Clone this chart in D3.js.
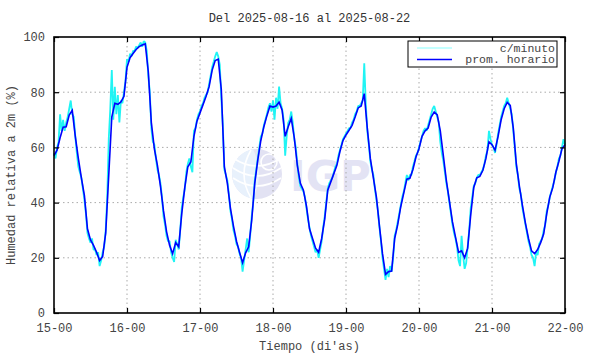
<!DOCTYPE html>
<html>
<head>
<meta charset="utf-8">
<script src="https://cdn.jsdelivr.net/npm/d3@7"></script>
<style>
	body { margin: 0; background: #fff; }
	text { font-family: "Liberation Mono", "DejaVu Sans Mono", monospace; }
</style>
</head>
<body>
<svg id="grafico" width="590" height="354"></svg>
<script>
var titulo = "Del 2025-08-16 al 2025-08-22";
var dias = ["15-00", "16-00", "17-00", "18-00", "19-00", "20-00", "21-00", "22-00"];
var humTicks = [0, 20, 40, 60, 80, 100];

// promedio horario, una hora por valor desde 15-00
var horario = [
	57, 59, 63.5, 67.3, 67.5, 71.7, 73.4, 64, 56, 49, 42.5, 30.5, 26.5, 24.5, 22, 19, 20.5, 29, 50, 71, 76, 75.6, 76.5, 78.5,
	89, 92.5, 94, 95.5, 96.5, 97.1, 97.5, 87.5, 69, 59.5, 53.5, 46, 37, 29.5, 24.5, 21.5, 25.5, 24, 36, 45.5, 53, 54.7, 64, 69.5,
	72.5, 75.5, 78.5, 82, 88, 91.5, 92, 81, 53, 47, 38, 31.5, 26, 22, 18.2, 21.8, 24, 33.6, 47, 55.5, 62.5, 67.5, 71.5, 75,
	74.6, 75, 76.4, 73.5, 64, 67.5, 70.5, 63.5, 53.5, 47, 44.5, 38.7, 30.5, 27, 23.5, 22, 27, 34, 44.5, 47.5, 50.5, 53.5, 58.5, 62.5,
	64.5, 66.2, 68, 71, 74.3, 75, 79.5, 67, 56, 49, 42, 31.5, 21.5, 14, 15, 15.2, 27, 32, 38.5, 43.5, 48.5, 48.8, 52, 56.5,
	59.5, 64, 66, 67, 71, 72.8, 71.8, 66, 57, 48, 40.5, 33, 27.5, 22, 22.5, 20, 23.5, 35.5, 45.5, 49, 49.5, 51.7, 56, 62,
	61, 59, 64, 70, 74, 76.3, 75.2, 67, 54, 46, 39, 32.5, 27, 22.5, 21.5, 23, 25.5, 28.7, 36, 42, 45.5, 51, 55, 59.5,
	61
];

// datos c/minuto (muestreados cada media hora)
var minuto = [
	58, 56, 60, 62, 72, 66, 70, 66, 69, 71, 74, 77, 72, 71, 64, 58, 53, 51, 49, 45, 41, 36, 29, 27,
	25.5, 27, 23, 23, 21, 22, 17, 19, 22, 24, 30, 42, 63, 74, 88, 70, 82, 72, 79, 69, 77, 76, 80, 84,
	92, 91, 94, 93, 95, 95, 96.5, 96, 97, 98, 96.5, 98.5, 98, 95, 86, 80, 67, 62, 61, 56, 52, 50, 47, 42,
	35, 32, 28, 26, 26, 22, 20, 18.5, 26.5, 25, 23, 30, 38, 42, 45, 51, 54, 56, 53, 51, 66, 67, 70, 72,
	73, 75, 76, 78, 79, 80, 83, 86, 89, 91, 93, 94.5, 93, 90, 78, 68, 52, 50, 48, 43, 37, 34, 30, 28,
	25, 24, 21.5, 20, 15, 19, 23, 27, 22, 28, 35, 40, 48, 52, 56, 60, 64, 65, 68, 70, 72, 74.5, 76, 73,
	77, 70, 78, 74, 82, 76, 74, 70, 57, 64, 69, 70, 73, 69, 63, 60, 54, 49, 46, 45, 44, 42, 38, 34,
	31, 28, 26, 24, 22, 23, 20, 23, 26, 31, 35, 40, 45, 47, 48, 49, 51, 53, 54, 57, 59, 61, 63, 64,
	65, 66, 67, 67, 69, 70, 72, 73, 75, 75, 76, 77, 90.5, 76, 66, 61, 55, 52, 50, 45, 41, 37, 31, 26,
	20, 16, 12, 16, 13, 17, 15, 20, 28, 30, 33, 36, 39, 42, 44, 47, 50, 48, 50, 50, 53, 55, 57, 58,
	60, 62, 64, 66, 67, 66, 68, 70, 72, 74, 75, 73, 71, 69, 62, 58, 55, 51, 47, 44, 40, 36, 32, 29,
	27, 24, 19, 17, 28, 21, 16, 18, 24, 30, 38, 42, 46, 47, 49, 50, 50, 51, 52, 54, 57, 59, 66, 63,
	61, 60, 58, 61, 65, 68, 71, 73, 75, 76, 78, 76, 74, 72, 66, 60, 53, 50, 45, 43, 38, 35, 32, 29,
	26, 24, 21, 20, 17, 22, 21, 25, 26, 27, 30, 32, 37, 39, 42, 44, 46, 48, 51, 53, 56, 57, 60, 63,
	61
];

var leyenda = ["c/minuto", "prom. horario"];

dibujar();

function dibujar(){
	var svg = d3.select("#grafico");
	var margin = {top: 37, right: 25, bottom: 41, left: 54},
	width = 590 - margin.left - margin.right,
	height = 354 - margin.top - margin.bottom;

	var x = d3.scaleLinear().domain([0, 168]).range([0, width]);
	var y = d3.scaleLinear().domain([0, 100]).range([height, 0]);
	var horas = dias.map(function(d, i) { return i * 24; });

	svg.append("text")
		.attr("x", margin.left + width / 2)
		.attr("y", 22)
		.attr("text-anchor", "middle")
		.attr("font-size", "12px")
		.attr("fill", "#333")
		.text(titulo);

	var g = svg.append("g").attr("transform", "translate(" + margin.left + "," + margin.top + ")");

	// marca de agua IGP
	var logo = g.append("g").attr("transform", "translate(" + (x(48) + 57) + "," + (y(50) - 1) + ")");
	logo.append("circle").attr("r", 25).attr("fill", "#e2e2f3");
	logo.append("path").attr("d", "M-25,0 A25,25 0 0,1 -4,-24.7 Q8,0 -4,24.7 A25,25 0 0,1 -25,0Z").attr("fill", "#e8f1fc");
	[-12, -2, 8].forEach(function(k) {
		logo.append("path")
			.attr("d", "M-24," + (k - 4) + " Q0," + (k + 12) + " 24," + (k - 4))
			.attr("fill", "none").attr("stroke", "#fff").attr("stroke-width", 1.6);
	});
	logo.append("path").attr("d", "M-6,-24 Q-20,0 -6,24").attr("fill", "none").attr("stroke", "#fff").attr("stroke-width", 1.6);
	logo.append("circle").attr("cx", 12).attr("cy", -12).attr("r", 8).attr("fill", "none").attr("stroke", "#fff").attr("stroke-width", 1.6);
	g.append("text")
		.attr("x", x(48) + 90)
		.attr("y", y(50) + 16)
		.attr("font-weight", "bold")
		.attr("font-size", "42px")
		.attr("fill", "#e3e3f4")
		.style("font-family", "'DejaVu Sans', sans-serif")
		.text("IGP");

	// rejilla punteada
	g.append("g").selectAll("line").data(horas.slice(1, -1)).enter().append("line")
		.attr("x1", function(d) { return x(d); }).attr("x2", function(d) { return x(d); })
		.attr("y1", 0).attr("y2", height)
		.attr("stroke", "#aaa").attr("stroke-dasharray", "1.5,3");
	g.append("g").selectAll("line").data(humTicks.slice(1, -1)).enter().append("line")
		.attr("x1", 0).attr("x2", width)
		.attr("y1", function(d) { return y(d); }).attr("y2", function(d) { return y(d); })
		.attr("stroke", "#aaa").attr("stroke-dasharray", "1.5,3");

	var lineaMin = d3.line()
		.x(function(d, i) { return x(i / 2); })
		.y(function(d) { return y(d); });
	var lineaHor = d3.line()
		.x(function(d, i) { return x(i); })
		.y(function(d) { return y(d); });

	g.append("path").datum(minuto)
		.attr("d", lineaMin)
		.attr("fill", "none")
		.attr("stroke", "#20f4f4")
		.attr("stroke-width", 1.8)
		.attr("stroke-linejoin", "bevel");
	g.append("path").datum(horario)
		.attr("d", lineaHor)
		.attr("fill", "none")
		.attr("stroke", "#0000ff")
		.attr("stroke-width", 1.6);

	// ejes
	g.append("g").attr("transform", "translate(0," + height + ")")
		.call(d3.axisBottom(x).tickValues(horas).tickSizeInner(-5).tickSizeOuter(0).tickPadding(10)
			.tickFormat(function(d, i) { return dias[i]; }));
	g.append("g")
		.call(d3.axisTop(x).tickValues(horas).tickSizeInner(-5).tickSizeOuter(0).tickFormat(""));
	g.append("g")
		.call(d3.axisLeft(y).tickValues(humTicks).tickSizeInner(-5).tickSizeOuter(0).tickPadding(9));
	g.append("g").attr("transform", "translate(" + width + ",0)")
		.call(d3.axisRight(y).tickValues(humTicks).tickSizeInner(-5).tickSizeOuter(0).tickFormat(""));

	g.selectAll(".domain").remove();
	g.selectAll(".tick line").attr("stroke", "#000").attr("stroke-width", 1.2);
	g.selectAll(".tick text")
		.attr("font-family", null)
		.attr("font-size", null)
		.style("font-size", "12px")
		.attr("fill", "#444");

	g.append("rect")
		.attr("width", width).attr("height", height)
		.attr("fill", "none").attr("stroke", "#000").attr("stroke-width", 1.6);

	// leyenda
	var ley = g.append("g").attr("transform", "translate(" + (width - 157) + ",4)");
	ley.append("rect").attr("width", 149).attr("height", 26)
		.attr("fill", "#fff").attr("stroke", "#000").attr("stroke-width", 1);
	ley.selectAll("line").data(leyenda).enter().append("line")
		.attr("x1", 9).attr("x2", 44)
		.attr("y1", function(d, i) { return 7 + i * 11.5; })
		.attr("y2", function(d, i) { return 7 + i * 11.5; })
		.attr("stroke", function(d, i) { return i == 0 ? "#8ff" : "#0000ff"; })
		.attr("stroke-width", function(d, i) { return i == 0 ? 1 : 1.6; });
	ley.selectAll("text").data(leyenda).enter().append("text")
		.attr("x", 147)
		.attr("y", function(d, i) { return 10.5 + i * 11.5; })
		.attr("text-anchor", "end")
		.attr("font-size", "11.5px")
		.attr("fill", "#444")
		.text(function(d) { return d; });

	svg.append("text")
		.attr("x", margin.left + width / 2)
		.attr("y", 350)
		.attr("text-anchor", "middle")
		.attr("font-size", "12px")
		.attr("fill", "#444")
		.text("Tiempo (di'as)");

	svg.append("text")
		.attr("transform", "translate(15," + (margin.top + height / 2) + ") rotate(-90)")
		.attr("text-anchor", "middle")
		.attr("font-size", "12px")
		.attr("fill", "#444")
		.text("Humedad relativa a 2m (%)");
}
</script>
</body>
</html>
